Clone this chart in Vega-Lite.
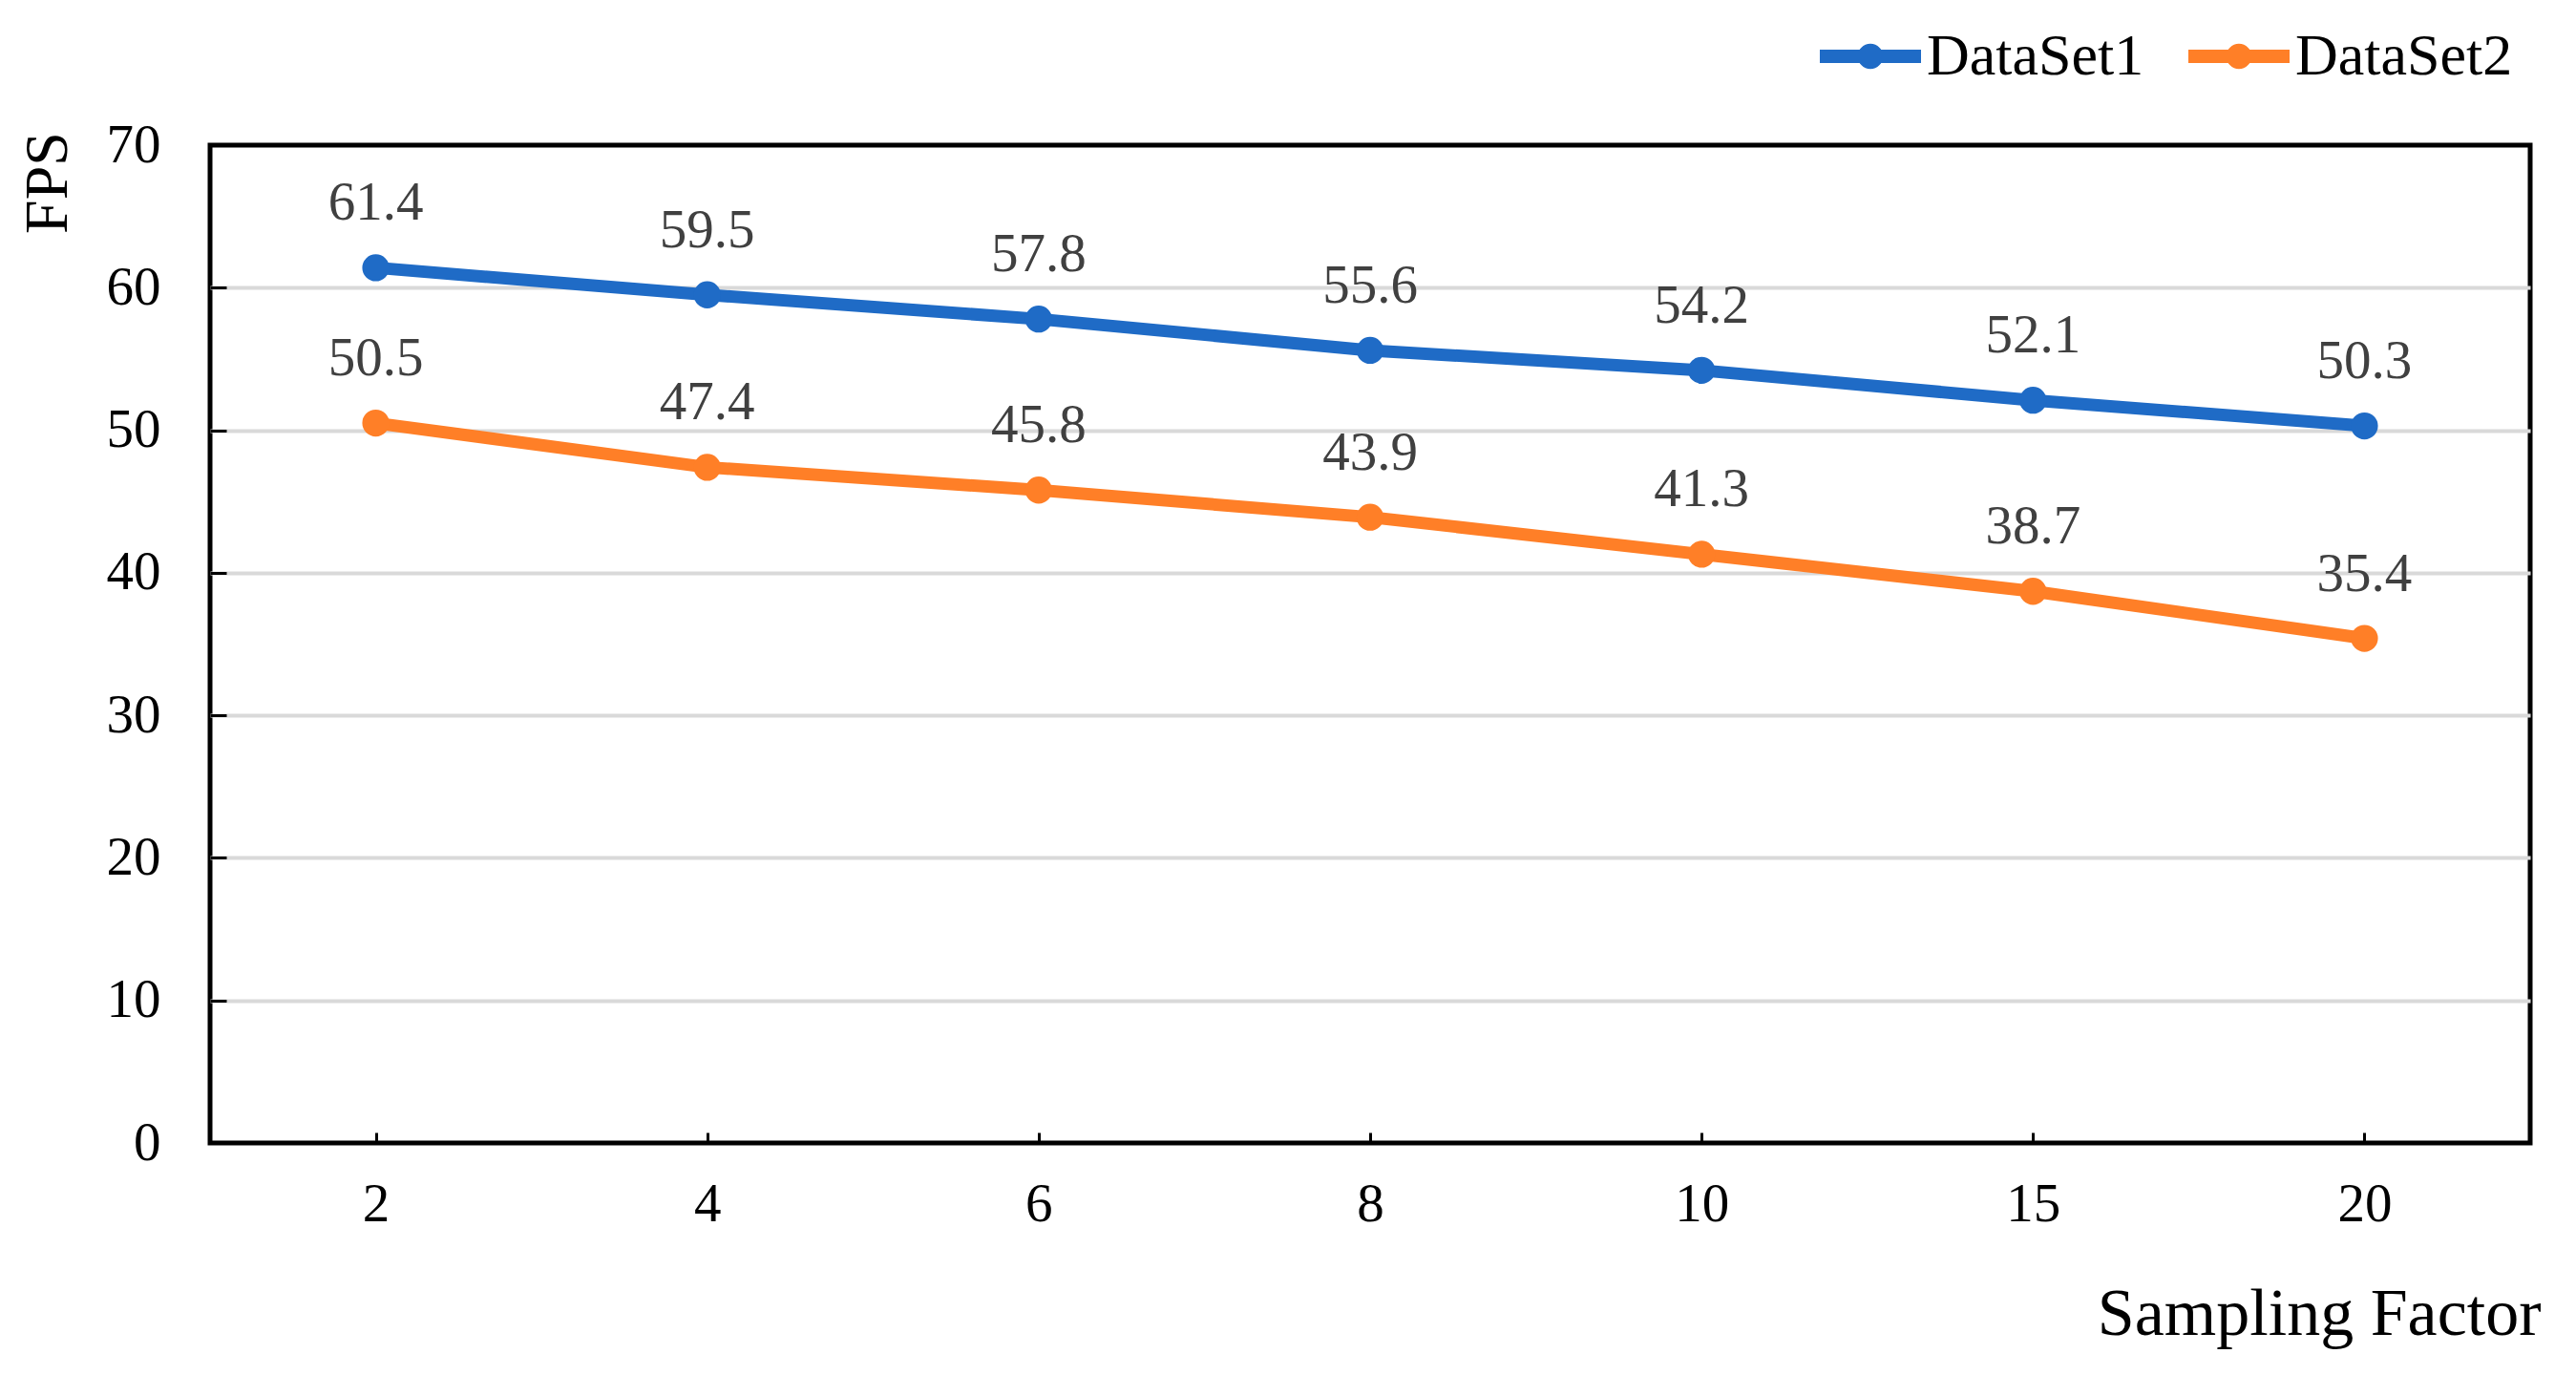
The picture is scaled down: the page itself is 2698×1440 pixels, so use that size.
{
  "$schema": "https://vega.github.io/schema/vega-lite/v6.json",
  "autosize": {"type": "none"},
  "padding": {"left": 220, "top": 152, "right": 48, "bottom": 243},
  "width": 2430,
  "height": 1045,
  "background": "white",
  "config": {
    "font": "Liberation Serif",
    "view": {"stroke": "black", "strokeWidth": 5},
    "axis": {"labelFont": "Liberation Serif", "titleFont": "Liberation Serif", "titleFontWeight": "normal", "labelColor": "black", "titleColor": "black"}
  },
  "data": {
    "values": [
      {"factor": 2, "series": "DataSet1", "fps": 61.4},
      {"factor": 4, "series": "DataSet1", "fps": 59.5},
      {"factor": 6, "series": "DataSet1", "fps": 57.8},
      {"factor": 8, "series": "DataSet1", "fps": 55.6},
      {"factor": 10, "series": "DataSet1", "fps": 54.2},
      {"factor": 15, "series": "DataSet1", "fps": 52.1},
      {"factor": 20, "series": "DataSet1", "fps": 50.3},
      {"factor": 2, "series": "DataSet2", "fps": 50.5},
      {"factor": 4, "series": "DataSet2", "fps": 47.4},
      {"factor": 6, "series": "DataSet2", "fps": 45.8},
      {"factor": 8, "series": "DataSet2", "fps": 43.9},
      {"factor": 10, "series": "DataSet2", "fps": 41.3},
      {"factor": 15, "series": "DataSet2", "fps": 38.7},
      {"factor": 20, "series": "DataSet2", "fps": 35.4}
    ]
  },
  "encoding": {
    "x": {
      "field": "factor",
      "type": "ordinal",
      "scale": {"type": "point", "padding": 0.5},
      "axis": {
        "title": "Sampling Factor",
        "titleFontSize": 70,
        "titleAnchor": "end",
        "titleAlign": "right",
        "titleBaseline": "alphabetic",
        "titleX": 2441,
        "titleY": 200,
        "labelAngle": 0,
        "labelFontSize": 57,
        "labelBaseline": "alphabetic",
        "labelPadding": 92,
        "tickSize": -11,
        "tickWidth": 3,
        "tickColor": "black",
        "domain": false,
        "grid": false
      }
    },
    "y": {
      "field": "fps",
      "type": "quantitative",
      "scale": {"domain": [0, 70], "nice": false, "zero": true},
      "axis": {
        "title": "FPS",
        "titleFontSize": 64,
        "titleAngle": -90,
        "titleAlign": "center",
        "titleBaseline": "middle",
        "titleX": -170,
        "titleY": 39,
        "values": [0, 10, 20, 30, 40, 50, 60, 70],
        "labelFontSize": 57,
        "labelAlign": "right",
        "labelBaseline": "middle",
        "labelPadding": 69,
        "tickSize": -17,
        "tickWidth": 3,
        "tickColor": "black",
        "domain": false,
        "grid": true,
        "gridColor": {"condition": {"test": "datum.value === 0 || datum.value === 70", "value": "transparent"}, "value": "#d9d9d9"},
        "gridWidth": 4
      }
    },
    "color": {
      "field": "series",
      "type": "nominal",
      "scale": {"domain": ["DataSet1", "DataSet2"], "range": ["#1f6bc6", "#ff7f27"]},
      "legend": {
        "title": null,
        "orient": "none",
        "direction": "horizontal",
        "legendX": 1686,
        "legendY": -146,
        "padding": 0,
        "labelFont": "Liberation Serif",
        "labelFontSize": 62,
        "labelColor": "black",
        "labelLimit": 0,
        "labelOffset": 6,
        "columnPadding": 46,
        "symbolSize": 11236,
        "symbolType": "M-1,-0.13 H1 V0.13 H-1 Z M0.25,0 A0.25,0.25 0 1,1 -0.25,0 A0.25,0.25 0 1,1 0.25,0 Z",
        "symbolStrokeWidth": 0,
        "encode": {
          "symbols": {
            "update": {
              "fill": {"scale": "color", "field": "value"},
              "stroke": {"value": "transparent"},
              "opacity": {"value": 1}
            }
          }
        }
      }
    }
  },
  "layer": [
    {
      "mark": {"type": "line", "strokeWidth": 13, "point": {"filled": true, "size": 800, "opacity": 1}}
    },
    {
      "mark": {"type": "text", "dy": -50, "baseline": "alphabetic", "align": "center", "fontSize": 57, "color": "#404040", "font": "Liberation Serif"},
      "encoding": {
        "text": {"field": "fps", "type": "quantitative", "format": ".1f"},
        "color": {"value": "#404040"}
      }
    }
  ]
}
